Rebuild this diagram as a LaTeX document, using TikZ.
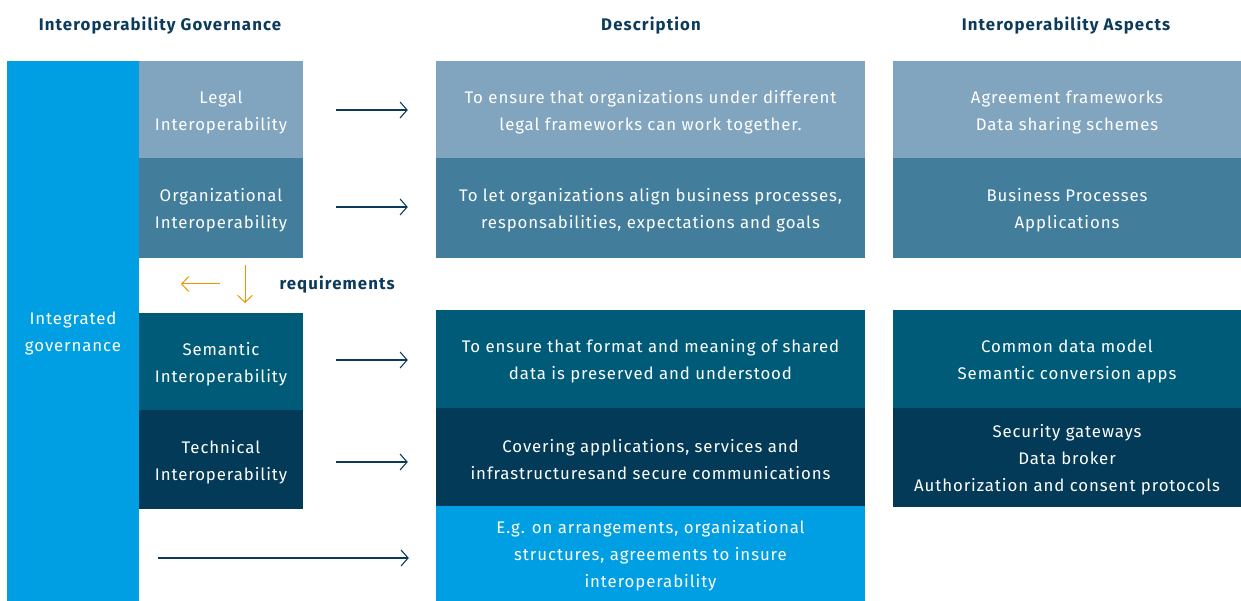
\documentclass[tikz,border=0pt]{standalone}
\usepackage{fontspec}
\setmainfont{Fira Sans}[LetterSpace=5.5, BoldFeatures={LetterSpace=6.5}]
\usetikzlibrary{arrows.meta,calc}
\definecolor{integ}{HTML}{009FE3}
\definecolor{legalc}{HTML}{81A5BF}
\definecolor{orgc}{HTML}{427E9C}
\definecolor{semc}{HTML}{005B78}
\definecolor{techc}{HTML}{023A57}
\definecolor{headc}{HTML}{0C3A5B}
\definecolor{orangec}{HTML}{F39200}
\newcommand{\topfill}{\rule{0pt}{18pt}}
\tikzset{
  box/.style={inner sep=0pt, text=white, align=center, font=\fontsize{16.8}{27}\selectfont},
  govbox/.style={box, minimum width=164pt},
  descbox/.style={box, minimum width=429pt},
  aspbox/.style={box, minimum width=348pt},
  head/.style={text=headc, font=\fontsize{16.8}{19}\selectfont\bfseries},
  arr/.style={draw=headc, line width=1.1pt, -{Straight Barb[length=7pt,width=16pt,line width=1.1pt]}},
  oarr/.style={draw=orangec, line width=1pt, -{Straight Barb[length=7pt,width=15pt,line width=1pt]}}
}
\begin{document}
\begin{tikzpicture}[x=1pt,y=-1pt]
\useasboundingbox (0,0) rectangle (1241,601);
% headers
\node[head] (h1) at (160,26) {Interoperability Governance};
\node[head] (h2) at (651,26) {Description};
\node[head] (h3) at (1066,26) {Interoperability Aspects};
% integrated column
\node[box, fill=integ, minimum width=132pt, minimum height=540pt] (integ) at (73,331) {\topfill Integrated\\governance};
% governance boxes
\node[govbox, fill=legalc, minimum height=97pt] (legal) at (221,109.5) {\topfill Legal\\Interoperability};
\node[govbox, fill=orgc, minimum height=100pt] (org) at (221,208) {\topfill Organizational\\Interoperability};
\node[govbox, fill=semc, minimum height=97pt] (sem) at (221,361.5) {\topfill Semantic\\Interoperability};
\node[govbox, fill=techc, minimum height=99pt] (tech) at (221,459.5) {\topfill Technical\\Interoperability};
% description boxes
\node[descbox, fill=legalc, minimum height=97pt] (dlegal) at (650.5,109.5) {\topfill To ensure that organizations under different\\legal frameworks can work together.};
\node[descbox, fill=orgc, minimum height=100pt] (dorg) at (650.5,208) {\topfill To let organizations align business processes,\\responsabilities, expectations and goals};
\node[descbox, fill=semc, minimum height=98pt] (dsem) at (650.5,359) {\topfill To ensure that format and meaning of shared\\data is preserved and understood};
\node[descbox, fill=techc, minimum height=98pt] (dtech) at (650.5,457) {\topfill Covering applications, services and\\infrastructuresand secure communications};
\node[descbox, fill=integ, minimum height=95pt] (deg) at (650.5,553.5) {\topfill E.g. on arrangements, organizational\\structures, agreements to insure\\interoperability};
% aspects boxes
\node[aspbox, fill=legalc, minimum height=97pt] (alegal) at (1067,109.5) {\topfill Agreement frameworks\\Data sharing schemes};
\node[aspbox, fill=orgc, minimum height=100pt] (aorg) at (1067,208) {\topfill Business Processes\\Applications};
\node[aspbox, fill=semc, minimum height=98pt] (asem) at (1067,359) {\topfill Common data model\\Semantic conversion apps};
\node[aspbox, fill=techc, minimum height=99pt] (atech) at (1067,457.5) {\topfill Security gateways\\Data broker\\Authorization and consent protocols};
% arrows
\coordinate (a1) at ($(legal.east)+(33,0.5)$);
\coordinate (a2) at ($(org.east)+(33,-1)$);
\coordinate (a3) at ($(sem.east)+(33,-1.5)$);
\coordinate (a4) at ($(tech.east)+(33,2.5)$);
\coordinate (a5) at ($(integ.east |- deg.west)+(19,4.5)$);
\draw[arr] (a1) -- ($(a1 -| dlegal.west)+(-28,0)$);
\draw[arr] (a2) -- ($(a2 -| dorg.west)+(-28,0)$);
\draw[arr] (a3) -- ($(a3 -| dsem.west)+(-28,0)$);
\draw[arr] (a4) -- ($(a4 -| dtech.west)+(-28,0)$);
\draw[arr] (a5) -- ($(a5 -| deg.west)+(-27,0)$);
% requirements
\coordinate (la) at (220,284);
\coordinate (lb) at (181,284);
\coordinate (da) at (245,265);
\coordinate (db) at (245,303);
\draw[oarr] (la) -- (lb);
\draw[oarr] (da) -- (db);
\node[head, anchor=west] (req) at (276,285) {requirements};
\end{tikzpicture}
\end{document}
